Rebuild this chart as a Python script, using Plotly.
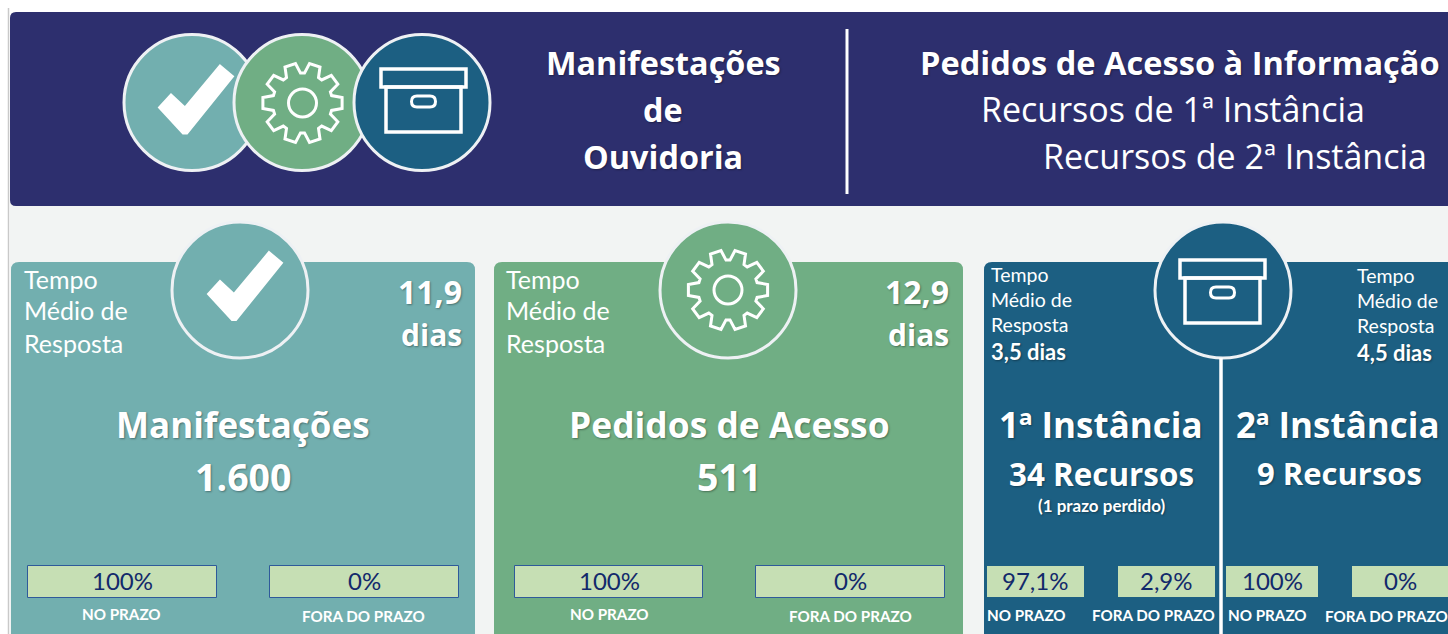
import math
import plotly.graph_objects as go

W, H = 1448, 634
NAVY, TEAL, GREEN, BLUE = "#2D2F6E", "#72AFAF", "#70AE84", "#1C5F82"
PANEL, BOXFILL, BOXLINE, BOXTEXT = "#F2F4F3", "#C6DFB4", "#2F5A9A", "#12296B"

header_left = ["Manifestações", "de", "Ouvidoria"]
header_right = ["Pedidos de Acesso à Informação", "Recursos de 1ª Instância", "Recursos de 2ª Instância"]
tempo_lines = ["Tempo", "Médio de", "Resposta"]
card_titles = ["Manifestações", "Pedidos de Acesso", "1ª Instância", "2ª Instância"]
card_counts = ["1.600", "511", "34 Recursos", "9 Recursos"]
card_days = ["11,9", "12,9", "3,5 dias", "4,5 dias"]
note = "(1 prazo perdido)"
in_time = ["100%", "100%", "97,1%", "100%"]
late = ["0%", "0%", "2,9%", "0%"]
label_in = "NO PRAZO"
label_late = "FORA DO PRAZO"

shapes, notes = [], []


def rrect(x0, y0, x1, y1, r, fill, line=None, lw=0):
    p = (f"M{x0+r},{y0} L{x1-r},{y0} Q{x1},{y0} {x1},{y0+r} L{x1},{y1-r} Q{x1},{y1} {x1-r},{y1} "
         f"L{x0+r},{y1} Q{x0},{y1} {x0},{y1-r} L{x0},{y0+r} Q{x0},{y0} {x0+r},{y0} Z")
    shapes.append(dict(type="path", path=p, fillcolor=fill, line=dict(color=line or fill, width=lw)))


def rect(x0, y0, x1, y1, fill, line=None, lw=0):
    shapes.append(dict(type="rect", x0=x0, y0=y0, x1=x1, y1=y1, fillcolor=fill,
                       line=dict(color=line or fill, width=lw)))


def circle(cx, cy, r, fill, line="#EEF1F4", lw=3):
    shapes.append(dict(type="circle", x0=cx-r, y0=cy-r, x1=cx+r, y1=cy+r, fillcolor=fill,
                       line=dict(color=line, width=lw)))


def seg(x0, y0, x1, y1, color="#FFFFFF", lw=3):
    shapes.append(dict(type="line", x0=x0, y0=y0, x1=x1, y1=y1, line=dict(color=color, width=lw)))


def check(cx, cy):
    pts = [(28, -37), (41, -26), (-5, 31), (-9, 31), (-33, 5), (-21, -8), (-7, 5)]
    p = "M" + " L".join(f"{cx+a},{cy+b}" for a, b in pts) + " Z"
    shapes.append(dict(type="path", path=p, fillcolor="#FFFFFF", line=dict(color="#FFFFFF", width=2)))


def gear(cx, cy, teeth=10, ro=40, ri=30):
    pts = []
    step = 2 * math.pi / teeth
    for i in range(teeth):
        a = (i + 0.5) * step - math.pi / 2
        for da, r in [(-0.36, ri), (-0.20, ro), (0.20, ro), (0.36, ri)]:
            t = a + da * step * 1.1
            pts.append((cx + r * math.cos(t), cy + r * math.sin(t)))
    p = "M" + " L".join(f"{x:.1f},{y:.1f}" for x, y in pts) + " Z"
    shapes.append(dict(type="path", path=p, fillcolor="rgba(0,0,0,0)", line=dict(color="#FFFFFF", width=3)))
    shapes.append(dict(type="circle", x0=cx-14, y0=cy-14, x1=cx+14, y1=cy+14,
                       fillcolor="rgba(0,0,0,0)", line=dict(color="#FFFFFF", width=3)))


def box(cx, cy):
    none = "rgba(0,0,0,0)"
    rect(cx-37.5, cy-13, cx+37.5, cy+32, none, "#FFFFFF", 3.5)
    rect(cx-42.5, cy-31, cx+42.5, cy-13, none, "#FFFFFF", 3.5)
    rrect(cx-12, cy-4, cx+12, cy+7, 5.5, none, "#FFFFFF", 3)


def text(x, y, s, size, bold=False, color="#FFFFFF", anchor="center", family="Open Sans", shadow=None):
    f = dict(size=size, color=color, family=family, weight=700 if bold else 400)
    if shadow:
        f["shadow"] = shadow
    notes.append(dict(x=x, y=y - 1, xref="x", yref="y", text=s, showarrow=False, xanchor=anchor,
                      yanchor="middle", font=f, borderpad=0, borderwidth=0))


SHADOW = "1px 1px 2px rgba(0,0,0,0.35)"

# page background, banner
seg(8.5, 8, 8.5, H, "#C9C9C9", 1.5)
rect(10, 200, W, H, PANEL)
rrect(10, 12, W + 12, 206, 6, NAVY)

# banner circles
circle(192, 102.5, 68, TEAL); check(192, 102.5)
circle(302, 102.5, 68, GREEN); gear(302.5, 103)
circle(422, 102.5, 68, BLUE); box(423.5, 100)

# banner text
for y, s in zip([63, 110, 157], header_left):
    text(663, y, s, 32.4, True, shadow=SHADOW)
seg(847, 29, 847, 194, lw=3)
text(1180, 63, header_right[0], 32.6, True, shadow=SHADOW)
text(1173, 110, header_right[1], 34)
text(1235, 157, header_right[2], 34)

# cards
rrect(11, 262, 475, H + 12, 8, TEAL)
rrect(494, 262, 963, H + 12, 8, GREEN)
rrect(984, 262, W + 12, H + 12, 8, BLUE)

# card icons
for cx, fill in [(240, TEAL), (728, GREEN), (1223, BLUE)]:
    circle(cx, 290, 68, fill)
check(241, 289)
gear(728, 290)
box(1222.5, 291)
seg(1221, 358, 1221, H, lw=3.5)

# response time
for x in (24, 506):
    for y, s in zip([280, 311, 344], tempo_lines):
        text(x, y, s, 25, anchor="left", family="Lato")
text(462, 292, card_days[0], 32, True, anchor="right", shadow=SHADOW)
text(462, 335, "dias", 30, True, anchor="right", shadow=SHADOW)
text(949, 292, card_days[1], 32, True, anchor="right", shadow=SHADOW)
text(949, 335, "dias", 30, True, anchor="right", shadow=SHADOW)
for x, off, d in [(991, 0, card_days[2]), (1357, 1, card_days[3])]:
    for y, s in zip([275, 300, 325], tempo_lines):
        text(x, y + off, s, 19.5, anchor="left", family="Lato")
    text(x, 352 + off, d, 22, True, anchor="left", family="Lato", shadow=SHADOW)

# card titles
for x, y, s, size in [(243, 425, card_titles[0], 35), (729, 425, card_titles[1], 35.4),
                      (1101, 425, card_titles[2], 35), (1338, 425, card_titles[3], 35)]:
    text(x, y, s, size, True, shadow=SHADOW)
text(243, 477, card_counts[0], 37.5, True, shadow=SHADOW)
text(729, 477, card_counts[1], 37.5, True, shadow=SHADOW)
text(1101, 474, card_counts[2], 31.4, True, shadow=SHADOW)
text(1339, 474, card_counts[3], 31, True, shadow=SHADOW)
text(1101, 506, note, 17, True, family="Lato", shadow=SHADOW)

# percentage boxes: two outlined pairs and two borderless pairs
for x0, x1, yt, yb, tx, s, lab_x, lab_y, lab, lw in [
    (27.5, 216.5, 565.5, 597.5, 122, in_time[0], 121, 615, label_in, 1),
    (269.5, 458.5, 565.5, 597.5, 364, late[0], 363, 617, label_late, 1),
    (514.5, 702.5, 565.5, 597.5, 609, in_time[1], 609, 615, label_in, 1),
    (755.5, 944.5, 565.5, 597.5, 850, late[1], 850, 617, label_late, 1),
    (987, 1084, 566, 597, 1035, in_time[2], 1026, 616, label_in, 0),
    (1118, 1215, 566, 597, 1166, late[2], 1153, 616, label_late, 0),
    (1226, 1318, 566, 597, 1272, in_time[3], 1267, 616, label_in, 0),
    (1352, W + 4, 566, 597, 1400, late[3], 1386, 617, label_late, 0),
]:
    rect(x0, yt, x1, yb, BOXFILL, BOXLINE, lw)
    text(tx, (yt + yb) / 2, s, 24, color=BOXTEXT, family="Lato")
    text(lab_x, lab_y, lab, 15.2, True, family="Lato")

fig = go.Figure()
fig.update_layout(
    width=W, height=H, autosize=False, margin=dict(l=0, r=0, t=0, b=0),
    paper_bgcolor="#FFFFFF", plot_bgcolor="#FFFFFF", showlegend=False,
    xaxis=dict(range=[0, W], visible=False, fixedrange=True),
    yaxis=dict(range=[H, 0], visible=False, fixedrange=True),
    shapes=shapes, annotations=notes,
)
fig.write_html("out.html", config={"displayModeBar": False},
               post_script="document.body.style.margin='0';document.body.style.overflow='hidden';")
